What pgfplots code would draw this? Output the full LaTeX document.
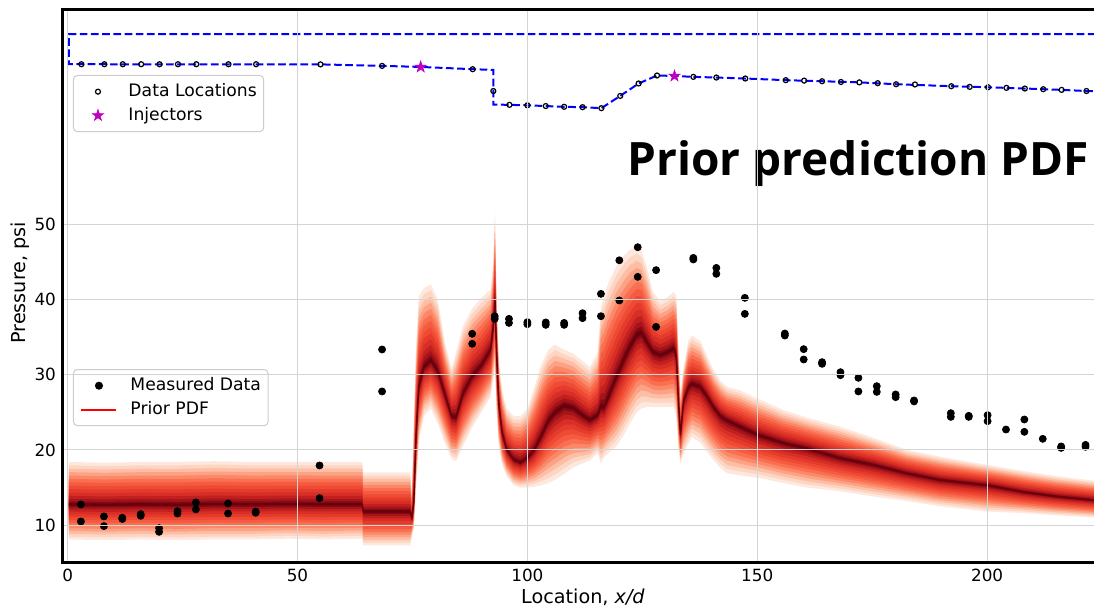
\documentclass[border=0pt]{standalone}
\usepackage{fontspec}
\setmainfont{DejaVu Sans}
\newfontfamily\titlefont{Open Sans}
\usepackage{pgfplots}
\usepackage{pgfplotstable}
\pgfplotsset{compat=1.18}
\usepgfplotslibrary{fillbetween}

\definecolor{geomblue}{RGB}{0,0,255}
\definecolor{injm}{RGB}{191,0,191}
\definecolor{rA}{HTML}{FEE8DE}
\definecolor{rB}{HTML}{FDD5C3}
\definecolor{rC}{HTML}{FDBEA5}
\definecolor{rD}{HTML}{FCA386}
\definecolor{rE}{HTML}{FB8868}
\definecolor{rF}{HTML}{F96F50}
\definecolor{rG}{HTML}{F55B40}
\definecolor{rH}{HTML}{EF4A34}
\definecolor{rI}{HTML}{E53B2C}
\definecolor{rJ}{HTML}{D72E25}
\definecolor{rK}{HTML}{C2201F}
\definecolor{rL}{HTML}{A5141A}
\definecolor{rM}{HTML}{850813}
\definecolor{rN}{HTML}{6A010E}
\definecolor{rcore}{HTML}{67000D}

% filled five-pointed star
\pgfdeclareplotmark{fstar}{%
  \pgfpathmoveto{\pgfpointpolar{90}{\pgfplotmarksize}}%
  \pgfpathlineto{\pgfpointpolar{126}{0.382\pgfplotmarksize}}%
  \pgfpathlineto{\pgfpointpolar{162}{\pgfplotmarksize}}%
  \pgfpathlineto{\pgfpointpolar{198}{0.382\pgfplotmarksize}}%
  \pgfpathlineto{\pgfpointpolar{234}{\pgfplotmarksize}}%
  \pgfpathlineto{\pgfpointpolar{270}{0.382\pgfplotmarksize}}%
  \pgfpathlineto{\pgfpointpolar{306}{\pgfplotmarksize}}%
  \pgfpathlineto{\pgfpointpolar{342}{0.382\pgfplotmarksize}}%
  \pgfpathlineto{\pgfpointpolar{18}{\pgfplotmarksize}}%
  \pgfpathlineto{\pgfpointpolar{54}{0.382\pgfplotmarksize}}%
  \pgfpathclose
  \pgfusepathqfillstroke
}

% prior prediction: median m, outer lower envelope L, outer upper envelope U
\pgfplotstableread{
x m L U
0.3 12.75 8.1 18.4
8 12.7 8.0 18.3
16 12.75 8.1 18.4
24 12.7 8.0 18.4
32 12.8 8.1 18.5
40 12.75 8.1 18.4
48 12.8 8.2 18.4
56 12.75 8.1 18.4
64.1 12.75 8.2 18.4
64.3 11.8 7.3 17.0
70 11.8 7.3 17.0
74.5 11.8 7.3 17.0
74.9 11.0 8.5 14.0
75.3 13.0 9.5 24.0
75.8 22.0 15.0 34.0
76.4 28.5 21.0 40.5
77.5 31.0 24.5 41.5
79.0 31.9 25.5 42.0
80.5 30.5 23.5 40.0
82.0 27.5 21.0 34.5
83.5 24.5 18.8 30.8
84.5 24.3 18.5 33.0
86.0 27.5 20.5 36.5
88.0 29.8 23.0 38.8
90.0 31.2 25.0 40.2
92.0 33.3 27.0 41.3
92.6 36.5 29.5 45.0
92.95 40.0 31.0 51.8
93.3 33.0 25.0 40.0
93.8 26.0 20.5 32.0
94.5 22.3 18.0 28.0
95.5 20.0 16.5 25.5
97.0 18.7 15.3 24.5
98.5 18.3 15.0 24.5
100.0 18.9 15.0 25.5
101.5 20.0 15.1 28.3
103.0 21.8 15.3 31.3
104.5 23.8 15.6 33.3
106.0 25.0 16.0 34.0
108.0 25.9 16.8 33.3
110.0 25.6 17.7 32.8
112.0 24.6 18.2 31.8
113.6 23.95 18.6 31.0
115.3 24.6 19.6 33.0
116.0 25.8 18.2 39.0
116.7 25.6 19.0 40.5
117.5 26.8 19.5 42.0
119.4 29.7 20.5 44.5
121.0 32.0 22.0 45.8
122.3 33.7 23.5 46.6
123.8 35.3 25.0 47.0
124.8 35.6 25.5 46.5
126.0 34.3 25.7 44.3
127.3 33.0 25.7 41.0
128.9 32.6 25.7 39.8
130.5 33.0 25.7 40.3
131.8 33.5 25.7 41.0
132.4 32.5 24.5 40.5
132.9 26.0 20.0 33.0
133.3 22.0 18.2 27.5
134.0 26.6 19.5 31.0
135.0 28.3 20.8 34.5
135.8 28.8 21.7 35.2
137.6 28.4 21.0 34.5
139.0 27.2 19.8 32.6
140.5 25.7 18.6 30.6
142.0 24.5 17.6 29.2
143.4 23.95 16.9 28.4
146.3 23.1 16.6 27.9
150.1 22.0 16.3 26.8
155.7 20.9 15.6 25.3
160.8 20.2 15.0 24.3
168.0 18.9 14.5 23.1
175.3 18.0 13.8 21.6
182.5 16.9 13.2 20.0
189.8 16.0 12.5 19.1
200.1 15.3 11.8 18.0
207.9 14.4 11.6 17.2
215.2 13.8 11.3 16.5
223.3 13.3 11.0 15.9
226.0 13.1 10.9 15.7
}\pdftab

% measured pressures at the taps
\pgfplotstableread{
x y
2.9 12.75
2.9 10.49
7.9 11.16
7.9 9.87
11.9 10.98
11.9 10.82
15.9 11.46
15.9 11.24
19.9 9.6
19.9 9.11
23.9 11.86
23.9 11.55
27.9 13.02
27.9 12.09
34.9 12.88
34.9 11.55
40.9 11.8
40.9 11.65
54.8 17.93
54.8 13.59
68.4 33.35
68.4 27.77
88.0 35.43
88.0 34.1
92.9 37.77
92.9 37.42
96.0 37.42
96.0 36.88
100.0 36.98
100.0 36.71
104.0 36.94
104.0 36.62
108.0 36.88
108.0 36.62
112.0 38.17
112.0 37.51
116.0 40.74
116.0 37.77
120.0 45.2
120.0 39.86
124.0 46.94
124.0 43.0
128.0 43.89
128.0 36.35
136.1 45.52
136.1 45.31
141.1 44.19
141.1 43.4
147.3 40.21
147.3 38.08
156.0 35.47
156.0 35.2
160.1 33.39
160.1 32.02
164.1 31.66
164.1 31.44
168.1 30.33
168.1 29.93
172.0 29.58
172.0 27.77
176.0 28.47
176.0 27.71
180.1 27.37
180.1 27.01
184.1 26.57
184.1 26.44
192.1 24.88
192.1 24.39
196.0 24.53
196.0 24.39
200.1 24.62
200.1 23.82
204.1 22.71
208.1 24.04
208.1 22.4
212.1 21.47
216.1 20.46
216.1 20.27
221.4 20.67
221.4 20.41
}\meastab

% tap locations along the wall
\pgfplotstableread{
x y
3 71.26
8 71.26
12 71.26
16 71.26
20 71.26
24 71.26
28 71.26
35 71.26
41 71.26
55 71.24
68.4 71.04
88.1 70.6
92.6 67.7
96.1 65.86
100 65.8
104 65.7
108 65.6
112 65.55
116.1 65.42
120.2 67.05
124.2 68.7
128.2 69.76
136.1 69.58
141.1 69.49
147.4 69.36
156.2 69.14
160.2 69.08
164.1 69.0
168.2 68.9
172.2 68.85
176.2 68.74
180.2 68.6
184.3 68.57
192.2 68.34
196.2 68.25
200.2 68.2
204.2 68.12
208.2 68.03
212.2 67.94
216.2 67.85
221.6 67.7
}\loctab

\newcommand{\band}[3]{%
  \addplot[draw=none, forget plot, name path=#1u] table[x=x, y expr={\thisrow{m}+#2*(\thisrow{U}-\thisrow{m})}] {\pdftab};
  \addplot[draw=none, forget plot, name path=#1l] table[x=x, y expr={\thisrow{m}-#2*(\thisrow{m}-\thisrow{L})}] {\pdftab};
  \addplot[fill=#3, draw=none, forget plot] fill between[of=#1u and #1l];
}

\pgfplotsset{
  frame/.style={
    at={(0pt,0pt)}, anchor=south west,
    scale only axis, width=520pt, height=276.5pt,
    xmin=-1, xmax=225.2, ymin=5.1, ymax=78.6,
  },
  mylegend/.style={
    legend cell align=left,
    legend style={draw=black!20, line width=0.5pt, rounded corners=2pt,
      fill=white, font=\fontsize{8.6}{10}\selectfont,
      inner xsep=3.5pt, inner ysep=4pt, row sep=3.7pt,
      nodes={inner sep=0pt, text height=6.4pt, text depth=1.8pt},
      /tikz/every odd column/.append style={column sep=6.5pt}},
    legend image code/.code={\draw[mark repeat=2,mark phase=2,##1] plot coordinates {(0pt,0pt) (8.75pt,0pt) (17.5pt,0pt)};},
  },
  mkleg/.style={
    legend image code/.code={\path[draw=none, fill=none] (0pt,-0.1pt) rectangle (17.5pt,0.1pt); \draw[##1] plot coordinates {(8.75pt,0pt)};},
  },
}

\begin{document}
\begin{tikzpicture}
\begin{axis}[frame, mylegend,
  xtick={0,50,...,200}, ytick={10,20,...,50},
  grid=major, major grid style={line width=0.6pt, color=black!17},
  major tick length=0pt,
  axis line style={line width=1.5pt},
  axis on top,
  /pgf/number format/assume math mode=true,
  tick label style={font=\fontsize{8.4}{10}\selectfont},
  xlabel={Location, \textit{x/d}}, ylabel={Pressure, psi},
  every axis x label/.style={at={(axis description cs:0.5,0)}, anchor=base, yshift=-20.75pt, font=\fontsize{9.6}{11}\selectfont},
  every axis y label/.style={at={(axis description cs:-0.0412,0.505)}, anchor=center, rotate=90, font=\fontsize{9.6}{11}\selectfont},
  legend style={at={(0.0096,0.8807)}, anchor=north west},
]
\band{a}{1.00}{rA}
\band{b}{0.92}{rB}
\band{c}{0.84}{rC}
\band{d}{0.76}{rD}
\band{e}{0.68}{rE}
\band{f}{0.60}{rF}
\band{g}{0.52}{rG}
\band{h}{0.44}{rH}
\band{i}{0.36}{rI}
\band{j}{0.28}{rJ}
\band{k}{0.20}{rK}
\band{l}{0.13}{rL}
\band{m}{0.07}{rM}
\band{n}{0.03}{rN}
\addplot[rcore, line width=0.7pt, forget plot] table[x=x, y=m] {\pdftab};

\addplot[black, only marks, mark=*, mark size=1.75pt, forget plot] table[x=x, y=y] {\meastab};

% wall outline
\addplot[geomblue, line width=1pt, dash pattern=on 3.85pt off 1.75pt, forget plot] coordinates {
(226,75.25) (0.3,75.25) (0.3,71.26) (55,71.24) (68.4,71.04) (76.8,70.9) (88.1,70.6) (92.6,70.5)
(92.6,65.9) (96.1,65.86) (100,65.8) (104,65.7) (108,65.6) (112,65.55) (116.1,65.42) (120.2,67.05)
(124.2,68.7) (128.2,69.76) (132,69.7) (136.1,69.58) (141.1,69.49) (147.4,69.36) (156.2,69.14)
(164.1,69.0) (172.2,68.85) (180.2,68.6) (192.2,68.34) (200.2,68.2) (208.2,68.03) (216.2,67.85)
(221.6,67.7) (226,67.6)};

\addplot[black, only marks, mark=o, mark size=1.25pt, line width=0.6pt, mkleg] table[x=x, y=y] {\loctab};
\addlegendentry{Data Locations}
\addplot[injm, only marks, mark=fstar, mark size=3pt, line width=0.3pt, fill=injm, mkleg] coordinates {(76.8,70.9) (132,69.7)};
\addlegendentry{Injectors}

\node[anchor=base east, font=\titlefont\bfseries\fontsize{23}{26}\selectfont] at (axis cs:223.6,56.5) {Prior prediction PDF};
\end{axis}

\begin{axis}[frame, mylegend, hide axis,
  legend style={at={(0.0096,0.349)}, anchor=north west},
]
\addlegendimage{black, only marks, mark=*, mark size=1.75pt, mkleg}
\addlegendentry{Measured Data}
\addlegendimage{red, line width=1pt}
\addlegendentry{Prior PDF}
\end{axis}

\pgfresetboundingbox
\useasboundingbox (-31.5pt,-22.5pt) rectangle (515.5pt,281pt);
\end{tikzpicture}
\end{document}
